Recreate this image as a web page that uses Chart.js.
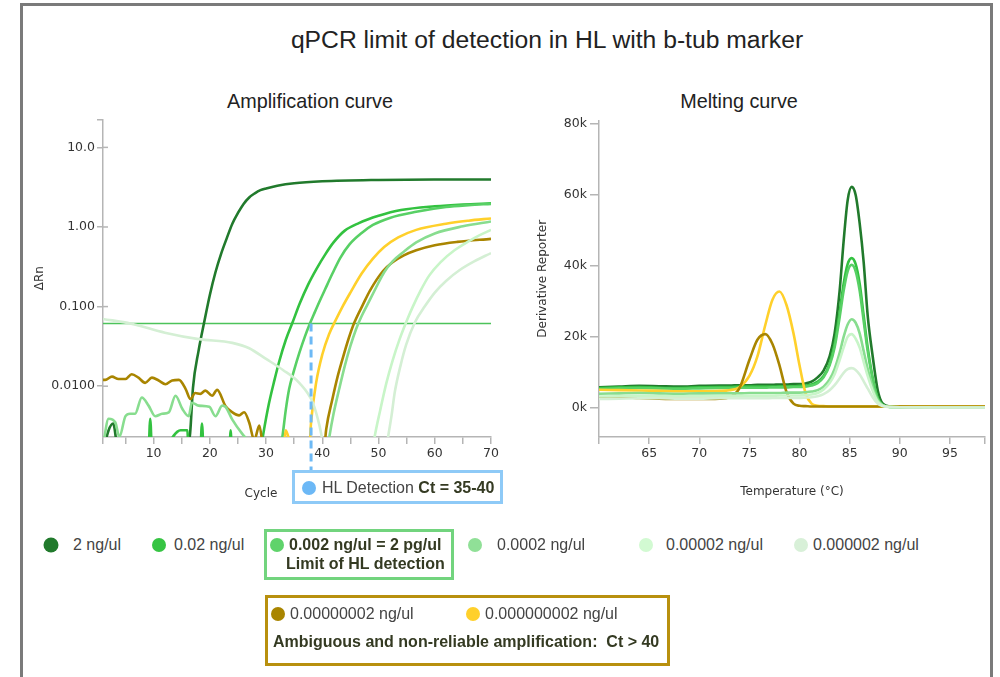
<!DOCTYPE html>
<html>
<head>
<meta charset="utf-8">
<script src="https://cdn.jsdelivr.net/npm/chart.js"></script>
<style>
  body { margin:0; background:#fff; font-family:'Liberation Sans', Arial, sans-serif; color:#333; }
  #page { position:relative; width:1000px; height:677px; overflow:hidden; }
  #frame { position:absolute; left:20px; top:3px; width:967px; height:720px; border:3px solid #7a7a7a; }
  .t { position:absolute; white-space:nowrap; transform:translate(-50%,-50%); color:#222; }
  .l { position:absolute; white-space:nowrap; transform:translateY(-50%); font-size:16px; color:#444; }
  .b { font-weight:bold; color:#343a22; }
  .dot { position:absolute; width:14px; height:14px; border-radius:50%; transform:translate(-50%,-50%); }
  .box { position:absolute; box-sizing:border-box; }
  canvas { position:absolute; }
</style>
</head>
<body>
<div id="page">
  <div id="frame"></div>
  <div class="t" style="left:547px;top:40px;font-size:24.7px;">qPCR limit of detection in HL with b-tub marker</div>
  <div class="t" style="left:310px;top:101px;font-size:19.8px;">Amplification curve</div>
  <div class="t" style="left:739px;top:101px;font-size:19.8px;">Melting curve</div>

  <canvas id="amp" width="475" height="400" style="left:30px;top:110px"></canvas>
  <canvas id="melt" width="470" height="400" style="left:520px;top:110px"></canvas>

  <div class="t" style="left:261px;top:493px;font-size:12px;font-family:'DejaVu Sans';color:#333;">Cycle</div>

  <div class="box" style="left:292px;top:470px;width:211px;height:34px;border:3px solid #8ecaf7;"></div>
  <div class="dot" style="left:309px;top:488px;background:#6cb8f6;"></div>
  <div class="l" style="left:322px;top:488px;">HL Detection <span class="b">Ct = 35-40</span></div>

  <div class="dot" style="left:51px;top:545px;width:15px;height:15px;background:#217a2c;"></div>
  <div class="l" style="left:73px;top:545px;">2 ng/ul</div>
  <div class="dot" style="left:159px;top:545px;background:#36c443;"></div>
  <div class="l" style="left:174px;top:545px;">0.02 ng/ul</div>

  <div class="box" style="left:264px;top:529px;width:190px;height:51px;border:3px solid #72d47e;"></div>
  <div class="dot" style="left:277px;top:545px;background:#5fd36b;"></div>
  <div class="l b" style="left:289px;top:545px;">0.002 ng/ul = 2 pg/ul</div>
  <div class="l b" style="left:286px;top:564px;">Limit of HL detection</div>

  <div class="dot" style="left:475px;top:545px;background:#90e097;"></div>
  <div class="l" style="left:497px;top:545px;">0.0002 ng/ul</div>
  <div class="dot" style="left:646px;top:545px;background:#d2fad2;"></div>
  <div class="l" style="left:666px;top:545px;">0.00002 ng/ul</div>
  <div class="dot" style="left:801px;top:545px;background:#d8f0d8;"></div>
  <div class="l" style="left:813px;top:545px;">0.000002 ng/ul</div>

  <div class="box" style="left:265px;top:595px;width:405px;height:71px;border:3px solid #b8900e;"></div>
  <div class="dot" style="left:278px;top:614px;background:#a98500;"></div>
  <div class="l" style="left:290px;top:614px;">0.00000002 ng/ul</div>
  <div class="dot" style="left:473px;top:614px;background:#ffd02b;"></div>
  <div class="l" style="left:485px;top:614px;">0.000000002 ng/ul</div>
  <div class="l b" style="left:273px;top:642px;">Ambiguous and non-reliable amplification:&nbsp; Ct &gt; 40</div>
</div>

<script>
  // amplification curves, [cycle, deltaRn]
  const amp2ng = [[1,0.0015],[2,0.0028],[2.8,0.0034],[3.6,0.0016],[5,0.001],[15,0.001],[16,0.0016],[16.5,0.0026],[17,0.0095],[18,0.028],[19,0.064],[20,0.14],[21,0.27],[22,0.46],[23,0.72],[24,1.1],[25,1.5],[26,1.95],[27,2.35],[28,2.65],[29,2.9],[30,3.05],[32,3.3],[35,3.55],[40,3.75],[50,3.9],[60,3.95],[70,3.95]];
  const amp0_02 = [[1,0.001],[9,0.001],[9.4,0.0039],[9.8,0.001],[14.8,0.0028],[16,0.0028],[16.3,0.001],[18.2,0.001],[18.6,0.0034],[19,0.001],[23.4,0.001],[23.7,0.0028],[24,0.001],[29,0.0015],[29.5,0.0025],[30.5,0.006],[31.5,0.012],[32.3,0.02],[33.5,0.038],[34.7,0.063],[36,0.11],[37.5,0.19],[39,0.3],[40.5,0.45],[42,0.64],[44,0.9],[46.5,1.12],[50,1.38],[54,1.63],[60,1.82],[65,1.92],[70,1.98]];
  const amp0_002 = [[1,0.001],[32,0.001],[32.9,0.0023],[33.5,0.005],[34.1,0.0092],[35,0.016],[35.9,0.026],[36.9,0.042],[37.8,0.0613],[38.5,0.08],[39.5,0.116],[40.5,0.165],[41.8,0.26],[43.2,0.41],[44.8,0.6],[47,0.84],[49,1.06],[52,1.3],[56.7,1.55],[62,1.78],[66,1.88],[70,1.95]];
  const amp0_0002 = [[1,0.0018],[2,0.0039],[3.2,0.0035],[3.9,0.0023],[5,0.0042],[5.8,0.0045],[6.7,0.0045],[7.9,0.0072],[9.1,0.0057],[10.3,0.0042],[11.5,0.0045],[12.7,0.0047],[13.9,0.0076],[15.1,0.0052],[16.25,0.0042],[16.8,0.0062],[18,0.0057],[19.9,0.0055],[21,0.0042],[22.2,0.0057],[22.8,0.0055],[24,0.0038],[25.8,0.0025],[27.6,0.0018],[30,0.001],[40.5,0.001],[41.25,0.0023],[42,0.0045],[43,0.0092],[44,0.018],[45,0.032],[46,0.052],[47,0.076],[48,0.105],[49.5,0.17],[51,0.27],[52.5,0.37],[54.5,0.49],[56.7,0.64],[60,0.83],[65,1.02],[70,1.17]];
  const amp0_00002 = [[1,0.001],[48.5,0.001],[49.3,0.0023],[50.3,0.005],[51.4,0.011],[52.5,0.021],[53.75,0.039],[55,0.066],[56.1,0.1],[57.5,0.16],[59,0.245],[61,0.36],[63.5,0.51],[66,0.66],[68,0.79],[70,0.92]];
  const amp0_000002 = [[1,0.07],[6,0.061],[12,0.047],[18,0.039],[24,0.035],[27,0.03],[30,0.022],[33,0.016],[35.9,0.011],[38.3,0.0062],[39.5,0.0032],[40.2,0.0018],[41,0.001],[51,0.001],[51.7,0.0023],[52.3,0.0042],[52.9,0.0085],[53.9,0.018],[54.9,0.033],[56.5,0.064],[58.2,0.1],[60,0.15],[62,0.21],[64.5,0.29],[67,0.37],[70,0.47]];
  const amp0_00000002 = [[1,0.012],[1.4,0.012],[2.6,0.0132],[3.75,0.0123],[5,0.0123],[6.1,0.0141],[7.3,0.0128],[8.5,0.011],[9.7,0.0128],[10.9,0.0118],[12.1,0.0106],[13.3,0.0118],[14.5,0.012],[15.7,0.0092],[16.55,0.0069],[17.4,0.0082],[18.3,0.008],[19.2,0.0088],[20.4,0.0076],[21.3,0.009],[22.8,0.0056],[24,0.0047],[25.2,0.0043],[26.1,0.0047],[27,0.0035],[27.9,0.0021],[28.8,0.0032],[29.4,0.0018],[30,0.001],[40,0.001],[40.7,0.0029],[41.8,0.0069],[42.7,0.013],[43.6,0.022],[44.7,0.04],[45.7,0.063],[47.2,0.105],[48.5,0.16],[50.8,0.28],[52.5,0.36],[54.5,0.44],[56.7,0.51],[60,0.59],[64,0.65],[70,0.71]];
  const amp0_000000002 = [[1,0.001],[33,0.001],[33.5,0.0028],[34.3,0.0018],[35,0.001],[37.5,0.001],[38,0.0035],[38.9,0.011],[40,0.025],[41.2,0.045],[42.4,0.068],[43.6,0.1],[45,0.15],[47,0.26],[49,0.4],[51,0.56],[53.5,0.74],[56.7,0.92],[62,1.1],[66,1.2],[70,1.28]];

  const threshold = 0.0613;
  const hlCt = 38;
  const cycleTicks = [1,5,10,15,20,25,30,35,40,45,50,55,60,65,70];
  const rnTicks = [0.01,0.1,1,10];
  const rnMin = 0.0023, rnMax = 22.4;

  // melt curves, derivative reporter in thousands
  const meltTemps = [60,62,64,66,68,70,72,73,74,75,75.8,76.6,77.3,78,78.7,79.4,80,80.6,81.2,81.8,82.4,83,83.5,84,84.4,84.8,85.2,85.6,86,86.4,86.8,87.3,87.8,88.3,89,90,92,94,96,98.5];
  const melt2ng = [5.8,6.0,6.2,6.1,6.0,6.2,6.3,6.3,6.4,6.4,6.5,6.5,6.5,6.6,6.6,6.7,6.7,6.9,7.4,8.6,10.5,14.5,21,33,47,58.5,62.3,60,52,41,26,14.5,5,1.2,0.4,0.3,0.2,0.2,0.2,0.2];
  const melt0_02 = [5.6,5.8,5.9,5.7,5.6,5.8,5.9,5.9,6.0,6.0,6.0,6.0,6.0,6.1,6.1,6.1,6.2,6.3,6.6,7.4,9.0,12.5,18,27,35,40.5,42.2,40.5,35,26,17,8.5,2.8,0.8,0.3,0.2,0.2,0.2,0.1,0.1];
  const melt0_002 = [5.3,5.5,5.6,5.5,5.4,5.5,5.6,5.6,5.7,5.7,5.7,5.7,5.8,5.8,5.8,5.9,5.9,6.0,6.3,7.0,8.6,12,17,25.5,33,38.5,40.3,38.5,33,24.5,16,8,2.6,0.8,0.3,0.2,0.2,0.2,0.1,0.1];
  const melt0_0002 = [4.0,4.1,4.2,4.1,4.0,4.1,4.1,4.1,4.1,4.2,4.2,4.2,4.2,4.2,4.3,4.3,4.3,4.4,4.6,5.0,6.0,8.0,11,15.5,20,23.5,25,24,21,16,11,5.8,2.2,0.7,0.3,0.2,0.2,0.1,0.1,0.1];
  const melt0_00002 = [3.2,3.3,3.4,3.3,3.3,3.3,3.4,3.4,3.4,3.4,3.4,3.4,3.4,3.5,3.5,3.5,3.5,3.6,3.8,4.2,5.2,7.0,9.5,13.5,17,20,20.8,19.5,17,13,9,4.8,1.8,0.6,0.3,0.2,0.2,0.1,0.1,0.1];
  const melt0_000002 = [2.5,2.6,2.7,2.7,2.6,2.6,2.7,2.7,2.7,2.7,2.7,2.7,2.8,2.8,2.8,2.8,2.8,2.9,3.0,3.3,3.9,5.0,6.4,8.3,9.9,10.9,11.2,10.7,9.4,7.5,5.5,3.0,1.2,0.5,0.2,0.2,0.1,0.1,0.1,0.1];
  const melt0_00000002 = [3.0,3.0,2.8,2.6,2.5,2.5,2.6,3.0,5.5,13.5,19.2,20.8,18,12,4.5,1.2,0.6,0.5,0.4,0.4,0.4,0.4,0.4,0.4,0.4,0.4,0.4,0.4,0.4,0.4,0.4,0.4,0.4,0.4,0.4,0.4,0.4,0.4,0.4,0.4];
  const melt0_000000002 = [5.1,5.0,4.9,4.8,4.7,4.7,4.8,5.0,5.8,9,14.5,23.5,30.5,32.8,29,21,12,4.2,1.2,0.6,0.5,0.4,0.4,0.4,0.4,0.4,0.4,0.4,0.4,0.4,0.4,0.4,0.4,0.4,0.4,0.4,0.4,0.4,0.4,0.4];
  const tempTicks = [60,65,70,75,80,85,90,95,98.5];
  const derivTicks = [0,20,40,60,80];

  const colors = {
    c2ng: '#217a2c', c0_02: '#33c240', c0_002: '#58d065', c0_0002: '#88dd8f',
    c0_00002: '#c8f5c8', c0_000002: '#d4efd4', c0_00000002: '#a98500', c0_000000002: '#ffd02b'
  };

  Chart.defaults.font.family = "'DejaVu Sans', Verdana, sans-serif";
  Chart.defaults.font.size = 12.5;
  Chart.defaults.color = '#333';

  const toXY = arr => arr.map(([x, y]) => ({x, y}));
  const line = (label, data, color) => ({
    label, data, borderColor: color, backgroundColor: color, borderWidth: 2.6,
    pointRadius: 0, cubicInterpolationMode: 'monotone', fill: false
  });

  const axisGrid = {display: true, drawOnChartArea: false, drawTicks: true, tickLength: 7, color: '#b5b5b5', lineWidth: 1.5};
  const axisBorder = {display: true, color: '#b5b5b5', width: 1.5};

  // dashed Ct marker from the threshold down to the detection box,
  // plus the short inner half of the y tick marks
  const hlMarker = {
    id: 'hlMarker',
    afterDatasetsDraw(chart) {
      const {ctx, scales: {x, y}, chartArea} = chart;
      ctx.save();
      ctx.strokeStyle = '#b5b5b5';
      ctx.lineWidth = 1.5;
      rnTicks.forEach(v => {
        const py = y.getPixelForValue(v);
        ctx.beginPath();
        ctx.moveTo(chartArea.left, py);
        ctx.lineTo(chartArea.left + 5, py);
        ctx.stroke();
      });
      const px = x.getPixelForValue(hlCt);
      ctx.strokeStyle = '#6db9f5';
      ctx.lineWidth = 3;
      ctx.setLineDash([8, 5]);
      ctx.beginPath();
      ctx.moveTo(px, y.getPixelForValue(threshold));
      ctx.lineTo(px, chartArea.bottom + 33);
      ctx.stroke();
      ctx.restore();
    }
  };

  new Chart(document.getElementById('amp'), {
    type: 'line',
    data: {
      datasets: [
        line('0.000002 ng/ul', toXY(amp0_000002), colors.c0_000002),
        line('0.00002 ng/ul', toXY(amp0_00002), colors.c0_00002),
        line('0.0002 ng/ul', toXY(amp0_0002), colors.c0_0002),
        line('0.00000002 ng/ul', toXY(amp0_00000002), colors.c0_00000002),
        line('0.000000002 ng/ul', toXY(amp0_000000002), colors.c0_000000002),
        line('0.002 ng/ul', toXY(amp0_002), colors.c0_002),
        line('0.02 ng/ul', toXY(amp0_02), colors.c0_02),
        line('2 ng/ul', toXY(amp2ng), colors.c2ng),
        {label: 'threshold', data: [{x: 1, y: threshold}, {x: 70, y: threshold}],
         borderColor: '#4cc35a', borderWidth: 1.5, pointRadius: 0}
      ]
    },
    options: {
      responsive: false, animation: false, events: [],
      layout: {padding: {top: 9, right: 14, left: 0, bottom: 0}},
      plugins: {legend: {display: false}, tooltip: {enabled: false}},
      scales: {
        x: {
          type: 'linear', min: 1, max: 70,
          afterFit: s => { s.height = 73; },
          afterBuildTicks: s => { s.ticks = cycleTicks.map(v => ({value: v})); },
          ticks: {padding: 2, maxRotation: 0, autoSkip: false, callback: v => v % 10 === 0 ? String(v) : ''},
          grid: axisGrid, border: axisBorder
        },
        y: {
          type: 'logarithmic', min: rnMin, max: rnMax,
          afterFit: s => { s.width = 73; },
          afterBuildTicks: s => { s.ticks = rnTicks.concat([rnMax]).map(v => ({value: v})); },
          ticks: {padding: 2, autoSkip: false, callback: v => rnTicks.includes(v) ? v.toPrecision(3) : ''},
          grid: Object.assign({}, axisGrid, {tickLength: 6}), border: axisBorder,
          title: {display: true, text: 'ΔRn', padding: {top: 3, bottom: 0}, font: {size: 12}}
        }
      }
    },
    plugins: [hlMarker]
  });

  const meltLine = (label, vals, color) => line(label, meltTemps.map((t, i) => ({x: t, y: vals[i]})), color);

  new Chart(document.getElementById('melt'), {
    type: 'line',
    data: {
      datasets: [
        meltLine('0.000002 ng/ul', melt0_000002, colors.c0_000002),
        meltLine('0.00002 ng/ul', melt0_00002, colors.c0_00002),
        meltLine('0.0002 ng/ul', melt0_0002, colors.c0_0002),
        meltLine('0.00000002 ng/ul', melt0_00000002, colors.c0_00000002),
        meltLine('0.000000002 ng/ul', melt0_000000002, colors.c0_000000002),
        meltLine('0.002 ng/ul', melt0_002, colors.c0_002),
        meltLine('0.02 ng/ul', melt0_02, colors.c0_02),
        meltLine('2 ng/ul', melt2ng, colors.c2ng)
      ]
    },
    options: {
      responsive: false, animation: false, events: [],
      layout: {padding: {top: 10, right: 5, left: 0, bottom: 0}},
      plugins: {legend: {display: false}, tooltip: {enabled: false}},
      scales: {
        x: {
          type: 'linear', min: 60, max: 98.5,
          afterFit: s => { s.height = 73; },
          afterBuildTicks: s => { s.ticks = tempTicks.map(v => ({value: v})); },
          ticks: {padding: 2, maxRotation: 0, autoSkip: false, callback: v => (v === 60 || v === 98.5) ? '' : String(v)},
          grid: axisGrid, border: axisBorder,
          title: {display: true, text: 'Temperature (°C)', padding: {top: 0, bottom: 11}, font: {size: 12}}
        },
        y: {
          min: -8.2, max: 81,
          afterFit: s => { s.width = 79; },
          afterBuildTicks: s => { s.ticks = derivTicks.map(v => ({value: v})); },
          ticks: {padding: 3, autoSkip: false, callback: v => v + 'k'},
          grid: Object.assign({}, axisGrid, {tickLength: 9}), border: axisBorder,
          title: {display: true, text: 'Derivative Reporter', padding: {top: 16, bottom: 0}, font: {size: 12}}
        }
      }
    }
  });
</script>
</body>
</html>
